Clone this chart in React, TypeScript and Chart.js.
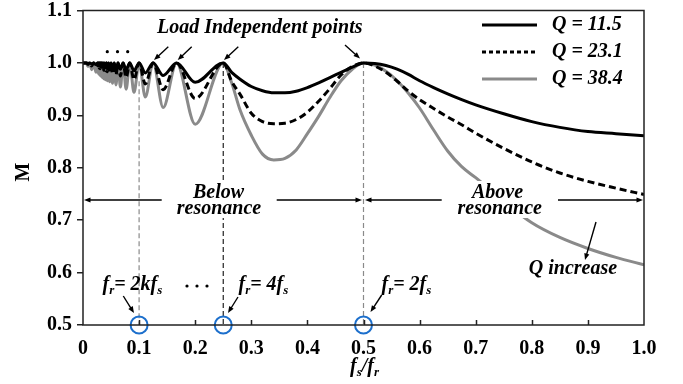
import React, { useEffect, useRef } from 'react';
import { Chart, registerables } from 'chart.js';

Chart.register(...registerables);

const FONT = "'Liberation Serif', 'Times New Roman', serif";

// f_s / f_r sample positions (shared by the three series)
const xValues = [
  0, 0.006, 0.009, 0.012, 0.0155, 0.019, 0.023, 0.0263, 0.027, 0.0278,
  0.0286, 0.0294, 0.0303, 0.0313, 0.0323, 0.0333, 0.0345, 0.0357, 0.037, 0.0385,
  0.04, 0.0417, 0.0435, 0.0455, 0.0476, 0.05, 0.0526, 0.0556, 0.0588, 0.0625,
  0.0667, 0.0714, 0.0769, 0.0833, 0.0909, 0.1, 0.1111, 0.125, 0.1429, 0.1667,
  0.2, 0.25, 0.265, 0.28, 0.3, 0.32, 0.34, 0.36, 0.38, 0.4,
  0.42, 0.44, 0.46, 0.48, 0.5, 0.52, 0.54, 0.56, 0.58, 0.6,
  0.625, 0.65, 0.675, 0.7, 0.75, 0.8, 0.85, 0.9, 0.95, 1.0,
];

const q115 = [
  1, 1, 0.999, 1, 0.998, 1, 0.997, 1, 0.996, 1,
  0.996, 1, 0.995, 1, 0.995, 1, 0.994, 1, 0.994, 1,
  0.993, 1, 0.992, 1, 0.991, 1, 0.99, 1, 0.989, 1,
  0.988, 1, 0.987, 1, 0.985, 1, 0.981, 1, 0.976, 1,
  0.963, 1, 0.982, 0.969, 0.955, 0.947, 0.943, 0.943, 0.946, 0.953,
  0.962, 0.972, 0.982, 0.992, 1, 0.999, 0.995, 0.988, 0.978, 0.966,
  0.953, 0.941, 0.93, 0.92, 0.903, 0.888, 0.877, 0.869, 0.865, 0.861,
];

const q231 = [
  1, 1, 0.997, 1, 0.994, 1, 0.992, 1, 0.991, 1,
  0.99, 1, 0.989, 1, 0.988, 1, 0.987, 1, 0.986, 1,
  0.985, 1, 0.983, 1, 0.981, 1, 0.979, 1, 0.977, 1,
  0.975, 1, 0.972, 1, 0.968, 1, 0.96, 1, 0.949, 1,
  0.932, 1, 0.965, 0.94, 0.904, 0.888, 0.884, 0.885, 0.892, 0.906,
  0.927, 0.951, 0.977, 0.993, 1, 0.994, 0.982, 0.965, 0.946, 0.93,
  0.913, 0.897, 0.882, 0.866, 0.837, 0.811, 0.79, 0.774, 0.761, 0.749,
];

const q384 = [
  1, 1, 0.993, 1, 0.987, 1, 0.982, 1, 0.98, 1,
  0.978, 1, 0.976, 1, 0.974, 1, 0.972, 1, 0.97, 1,
  0.968, 1, 0.966, 1, 0.964, 1, 0.961, 1, 0.958, 1,
  0.954, 1, 0.95, 1, 0.944, 1, 0.935, 1, 0.915, 1,
  0.883, 1, 0.962, 0.91, 0.862, 0.826, 0.815, 0.818, 0.834, 0.865,
  0.898, 0.934, 0.966, 0.988, 1, 0.996, 0.984, 0.966, 0.942, 0.914,
  0.872, 0.832, 0.802, 0.781, 0.736, 0.695, 0.667, 0.646, 0.629, 0.615,
];

const seriesLabels = ['Q = 11.5', 'Q = 23.1', 'Q = 38.4'];
const markerX = [0.1, 0.25, 0.5];
const markerY = [0.5, 0.5, 0.5];
const xMin = 0, xMax = 1, xStep = 0.1;
const yMin = 0.5, yMax = 1.1, yStep = 0.1;

const BLACK = '#000000';
const GRAY = '#8a8a8a';
const BLUE = '#1c6fcc';

type Part = [string, boolean];

function drawRich(ctx: CanvasRenderingContext2D, parts: Part[], x: number, y: number, size: number) {
  let cx = x;
  ctx.textAlign = 'left';
  ctx.textBaseline = 'alphabetic';
  for (const [t, sub] of parts) {
    const s = sub ? Math.round(size * 0.65) : size;
    ctx.font = `italic bold ${s}px ${FONT}`;
    ctx.fillText(t, cx, sub ? y + size * 0.22 : y);
    cx += ctx.measureText(t).width;
  }
}

function arrow(ctx: CanvasRenderingContext2D, x1: number, y1: number, x2: number, y2: number, head = 7) {
  const a = Math.atan2(y2 - y1, x2 - x1);
  ctx.save();
  ctx.strokeStyle = '#000';
  ctx.fillStyle = '#000';
  ctx.lineWidth = 1.4;
  ctx.setLineDash([]);
  ctx.beginPath();
  ctx.moveTo(x1, y1);
  ctx.lineTo(x2 - Math.cos(a) * head * 0.8, y2 - Math.sin(a) * head * 0.8);
  ctx.stroke();
  ctx.beginPath();
  ctx.moveTo(x2, y2);
  ctx.lineTo(x2 - head * Math.cos(a - 0.38), y2 - head * Math.sin(a - 0.38));
  ctx.lineTo(x2 - head * Math.cos(a + 0.38), y2 - head * Math.sin(a + 0.38));
  ctx.closePath();
  ctx.fill();
  ctx.restore();
}

function dot(ctx: CanvasRenderingContext2D, x: number, y: number) {
  ctx.beginPath();
  ctx.arc(x, y, 1.6, 0, Math.PI * 2);
  ctx.fill();
}

const annotPlugin = {
  id: 'annot',
  beforeDatasetsDraw(chart: any) {
    const ctx: CanvasRenderingContext2D = chart.ctx;
    const xs = chart.scales.x;
    const ys = chart.scales.y;
    const bottom = chart.chartArea.bottom;
    const vline = (v: number, from: number, color: string) => {
      const px = xs.getPixelForValue(v);
      ctx.save();
      ctx.strokeStyle = color;
      ctx.lineWidth = 1.2;
      ctx.setLineDash([5, 3]);
      ctx.beginPath();
      ctx.moveTo(px, ys.getPixelForValue(from));
      ctx.lineTo(px, bottom);
      ctx.stroke();
      ctx.restore();
    };
    vline(markerX[0], 0.965, '#8a8a8a');
    vline(markerX[1], 1.0, '#222');
    vline(markerX[2], 1.0, '#8a8a8a');
  },
  afterDatasetsDraw(chart: any) {
    const ctx: CanvasRenderingContext2D = chart.ctx;
    const { left, right, top, bottom } = chart.chartArea;
    const xs = chart.scales.x;
    ctx.save();

    // white backgrounds behind region labels
    ctx.fillStyle = '#ffffff';
    ctx.fillRect(168, 181, 100, 37);
    ctx.fillRect(454, 181, 92, 37);

    ctx.fillStyle = '#000';
    ctx.font = `italic bold 20px ${FONT}`;
    ctx.textBaseline = 'alphabetic';
    ctx.textAlign = 'left';
    ctx.fillText('Load Independent points', 157, 33);
    ctx.textAlign = 'center';
    ctx.fillText('Below', 218.5, 198);
    ctx.fillText('resonance', 219, 214);
    ctx.fillText('Above', 497.5, 198);
    ctx.fillText('resonance', 499.7, 214);
    ctx.fillText('Q increase', 573, 274);

    drawRich(ctx, [['f', false], ['r', true], ['= 2kf', false], ['s', true]], 102.5, 290, 20);
    drawRich(ctx, [['f', false], ['r', true], ['= 4f', false], ['s', true]], 238.5, 290, 20);
    drawRich(ctx, [['f', false], ['r', true], ['= 2f', false], ['s', true]], 381.5, 290, 20);

    ctx.fillStyle = '#000';
    dot(ctx, 107.3, 51.7); dot(ctx, 117.5, 51.7); dot(ctx, 127.7, 51.7);
    dot(ctx, 187, 286); dot(ctx, 197, 286); dot(ctx, 207, 286);

    // arrows
    arrow(ctx, 168.3, 46.7, 154, 60);
    arrow(ctx, 191.7, 46.7, 177.7, 60);
    arrow(ctx, 238.3, 46.7, 224, 60);
    arrow(ctx, 345, 45, 360, 58.5);
    arrow(ctx, 123.3, 296, 134, 313);
    arrow(ctx, 238, 297, 228, 313);
    arrow(ctx, 381.7, 295, 370.5, 312);
    arrow(ctx, 596, 222, 585, 260);
    arrow(ctx, 161.7, 200, left + 1, 200);
    arrow(ctx, 276.7, 200, 362, 200);
    arrow(ctx, 441.7, 200, 365, 200);
    arrow(ctx, 558, 200, right - 1, 200);

    // legend
    const rows = [25, 52, 79];
    const styles = [
      { c: BLACK, d: [] as number[] },
      { c: BLACK, d: [4, 3] },
      { c: GRAY, d: [] as number[] },
    ];
    rows.forEach((ry, i) => {
      ctx.strokeStyle = styles[i].c;
      ctx.lineWidth = 3;
      ctx.setLineDash(styles[i].d);
      ctx.beginPath();
      ctx.moveTo(482, ry);
      ctx.lineTo(537, ry);
      ctx.stroke();
      ctx.setLineDash([]);
      ctx.fillStyle = '#000';
      ctx.font = `italic bold 20px ${FONT}`;
      ctx.textAlign = 'left';
      ctx.fillText(seriesLabels[i], 552, ry + 4.5);
    });

    // plot box
    ctx.strokeStyle = '#222';
    ctx.lineWidth = 1.5;
    ctx.setLineDash([]);
    ctx.strokeRect(left, top, right - left, bottom - top);

    // inward x ticks
    ctx.beginPath();
    for (let v = xMin + xStep; v < xMax - 1e-6; v += xStep) {
      const px = Math.round(xs.getPixelForValue(v)) + 0.5;
      ctx.moveTo(px, bottom);
      ctx.lineTo(px, bottom - 5);
    }
    ctx.stroke();

    // axis titles
    ctx.fillStyle = '#000';
    drawRich(ctx, [['f', false], ['s', true], ['/f', false], ['r', true]], 350, 372, 20);
    ctx.save();
    ctx.translate(29, 172);
    ctx.rotate(-Math.PI / 2);
    ctx.font = `bold 20px ${FONT}`;
    ctx.textAlign = 'center';
    ctx.fillText('M', 0, 0);
    ctx.restore();

    ctx.restore();
  },
};

export default function App() {
  const ref = useRef<HTMLCanvasElement | null>(null);
  useEffect(() => {
    document.body.style.margin = '0';
    const canvas = ref.current;
    if (!canvas) return;
    const mk = (ys: number[]) => xValues.map((x, i) => ({ x, y: ys[i] }));
    const chart = new Chart(canvas, {
      type: 'line',
      data: {
        datasets: [
          {
            label: seriesLabels[0],
            data: mk(q115),
            borderColor: BLACK,
            borderWidth: 3,
            pointRadius: 0,
            cubicInterpolationMode: 'monotone',
            fill: false,
          },
          {
            label: seriesLabels[1],
            data: mk(q231),
            borderColor: BLACK,
            borderWidth: 3,
            borderDash: [7, 4],
            pointRadius: 0,
            cubicInterpolationMode: 'monotone',
            fill: false,
          },
          {
            label: seriesLabels[2],
            data: mk(q384),
            borderColor: GRAY,
            borderWidth: 3,
            pointRadius: 0,
            cubicInterpolationMode: 'monotone',
            fill: false,
          },
          {
            label: 'markers',
            data: markerX.map((x, i) => ({ x, y: markerY[i] })),
            showLine: false,
            pointRadius: 8.5,
            pointBorderWidth: 2,
            pointBorderColor: BLUE,
            pointBackgroundColor: 'rgba(0,0,0,0)',
            clip: false,
          } as any,
        ],
      },
      options: {
        animation: false,
        responsive: false,
        layout: { padding: { top: 7, right: 39, left: 0, bottom: 0 } },
        plugins: { legend: { display: false }, tooltip: { enabled: false } },
        scales: {
          x: {
            type: 'linear',
            min: xMin,
            max: xMax,
            grid: { display: false },
            border: { display: false },
            ticks: {
              stepSize: xStep,
              padding: 4,
              color: '#000',
              font: { family: FONT, size: 20, weight: 'bold' },
              callback: (v: any) => (Number(v) === 0 ? '0' : Number(v).toFixed(1)),
            },
            afterFit: (s: any) => {
              s.height = 59;
              s.paddingLeft = 0;
              s.paddingRight = 0;
            },
          },
          y: {
            type: 'linear',
            min: yMin,
            max: yMax,
            grid: { drawOnChartArea: false, drawTicks: true, tickLength: 6, color: '#222', lineWidth: 1.5 },
            border: { display: false },
            ticks: {
              stepSize: yStep,
              padding: 5,
              color: '#000',
              font: { family: FONT, size: 20, weight: 'bold' },
              callback: (v: any) => Number(v).toFixed(1),
            },
            afterFit: (s: any) => {
              s.width = 83;
              s.paddingTop = 0;
              s.paddingBottom = 0;
            },
          },
        },
      } as any,
      plugins: [annotPlugin],
    });
    return () => chart.destroy();
  }, []);
  return (
    <div style={{ width: 683, height: 384 }}>
      <canvas ref={ref} width={683} height={384} />
    </div>
  );
}
